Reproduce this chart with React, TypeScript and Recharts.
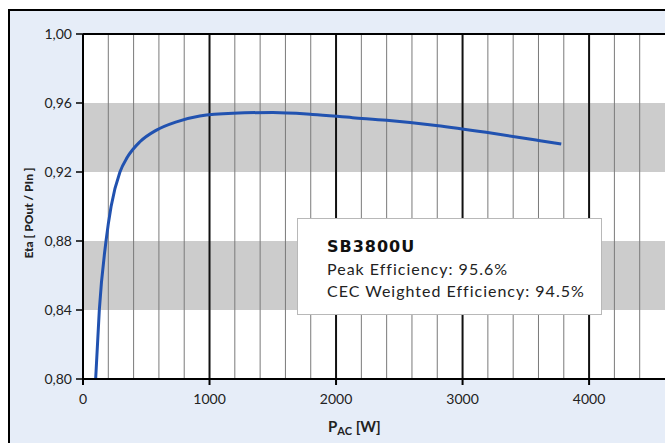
import React from 'react';
import { LineChart, Line, XAxis, YAxis, CartesianGrid, ReferenceArea, ReferenceLine } from 'recharts';

const pacW = [100, 129, 182, 222, 292, 350, 450, 581, 739, 923, 1186, 1500, 1815, 2131, 2400, 2790, 3186, 3580, 3780];
const etaValues = [0.8, 0.84, 0.88, 0.9, 0.92, 0.9285, 0.9375, 0.9443, 0.9491, 0.9525, 0.9541, 0.9545, 0.9534, 0.9515, 0.95, 0.947, 0.943, 0.9385, 0.9362];

const xTicks = [0, 1000, 2000, 3000, 4000];
const yTicks = [0.8, 0.84, 0.88, 0.92, 0.96, 1.0];
const minorGrid = [200, 400, 600, 800, 1200, 1400, 1600, 1800, 2200, 2400, 2600, 2800, 3200, 3400, 3600, 3800, 4200, 4400];
const majorGrid = [1000, 2000, 3000, 4000];
const grayBands: [number, number][] = [[0.84, 0.88], [0.92, 0.96]];

const modelName = 'SB3800U';
const peakLine = 'Peak Efficiency: 95.6%';
const cecLine = 'CEC Weighted Efficiency: 94.5%';

const data = pacW.map((p, i) => ({ p, eta: etaValues[i] }));

const FONT = 'Lato, "DejaVu Sans", sans-serif';

export default function App() {
  return (
    <div style={{ position: 'absolute', left: 0, top: 0, width: 665, height: 443, background: '#fff', overflow: 'hidden' }}>
      <div style={{ position: 'absolute', left: 8, top: 9, width: 665, height: 443, background: '#e6edf8', borderLeft: '2px solid #000', borderTop: '2px solid #000', boxSizing: 'border-box' }} />
      <div style={{ position: 'absolute', left: 0, top: 0 }}>
        <LineChart width={665} height={443} data={data} margin={{ top: 34, right: 0, bottom: 0, left: 0 }}>
          <CartesianGrid fill="#ffffff" horizontal={false} vertical={false} />
          {grayBands.map(([a, b]) => (
            <ReferenceArea key={a} y1={a} y2={b} x1={0} x2={4600} fill="#cccccc" fillOpacity={1} stroke="none" ifOverflow="hidden" />
          ))}
          {minorGrid.map((x) => (
            <ReferenceLine key={'m' + x} x={x} stroke="#7a7a7a" strokeWidth={1} />
          ))}
          {majorGrid.map((x) => (
            <ReferenceLine key={'M' + x} x={x} stroke="#111" strokeWidth={2} />
          ))}
          <ReferenceLine y={1.0} stroke="#000" strokeWidth={2} />
          <XAxis
            dataKey="p"
            type="number"
            domain={[0, 4600]}
            ticks={xTicks}
            allowDataOverflow
            height={64}
            axisLine={{ stroke: '#000', strokeWidth: 2 }}
            tickLine={{ stroke: '#000', strokeWidth: 2 }}
            tickSize={6}
            tickMargin={9}
            tick={{ fill: '#222', fontSize: 14, fontFamily: FONT }}
            label={{
              content: () => (
                <text x={328} y={432} fill="#222" fontFamily={FONT} fontWeight={700} fontSize={15}>
                  P<tspan fontSize={11} dy={3}>AC</tspan>
                  <tspan dy={-3}> [W]</tspan>
                </text>
              ),
            }}
          />
          <YAxis
            type="number"
            domain={[0.8, 1.0]}
            ticks={yTicks}
            allowDataOverflow
            width={83}
            axisLine={{ stroke: '#000', strokeWidth: 2 }}
            tickLine={{ stroke: '#000', strokeWidth: 1.5 }}
            tickSize={7}
            tickMargin={4}
            tickFormatter={(v: number) => v.toFixed(2).replace('.', ',')}
            tick={{ fill: '#222', fontSize: 14, fontFamily: FONT }}
            label={{
              content: () => (
                <text x={28} y={213} transform="rotate(-90 28 213)" textAnchor="middle" dominantBaseline="central" fill="#222" fontFamily={FONT} fontWeight={900} fontSize={12}>
                  Eta [ POut / PIn ]
                </text>
              ),
            }}
          />
          <Line type="monotone" dataKey="eta" stroke="#2152b0" strokeWidth={3} dot={false} isAnimationActive={false} />
        </LineChart>
      </div>
      <div style={{ position: 'absolute', left: 297, top: 218, width: 305, height: 97, boxSizing: 'border-box', background: '#fff', border: '1px solid #b8b8b8', fontFamily: FONT, color: '#222' }}>
        <div style={{ position: 'absolute', left: 29, top: 18, fontSize: 16, fontWeight: 700, fontFamily: '"DejaVu Sans", sans-serif', letterSpacing: 1, whiteSpace: 'nowrap', color: '#111' }}>{modelName}</div>
        <div style={{ position: 'absolute', left: 29, top: 40, fontSize: 16, letterSpacing: 1, whiteSpace: 'nowrap' }}>{peakLine}</div>
        <div style={{ position: 'absolute', left: 29, top: 62, fontSize: 16, letterSpacing: 1, whiteSpace: 'nowrap' }}>{cecLine}</div>
      </div>
    </div>
  );
}
